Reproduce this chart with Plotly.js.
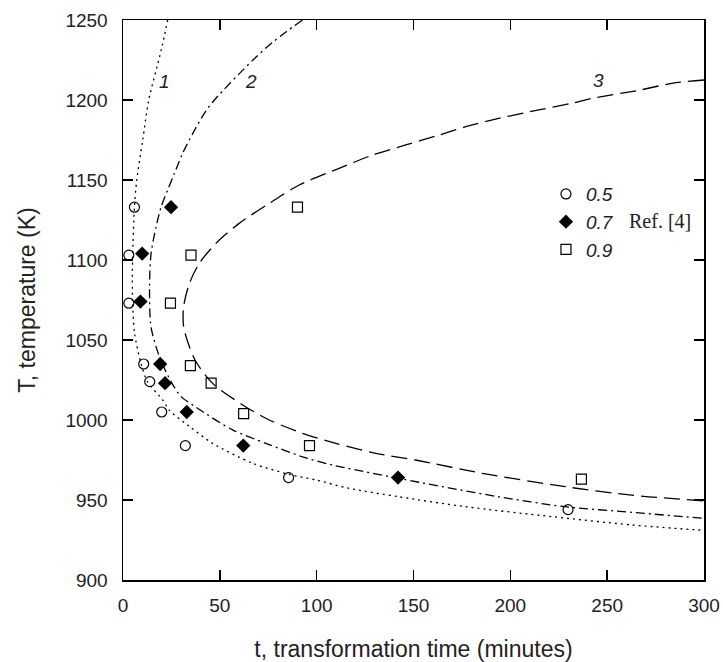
<!DOCTYPE html>
<html>
<head>
<meta charset="utf-8">
<script src="https://cdn.plot.ly/plotly-3.0.1.min.js"></script>
<style>html,body{margin:0;padding:0;background:#fff;}#chart{width:723px;height:662px;}</style>
</head>
<body>
<div id="chart"></div>
<script>
// Experimental points (Ref. [4]) — temperatures (K) and times (min)
var temp05 = [1133, 1103, 1073, 1035, 1024, 1005, 984, 964, 944];
var time05 = [5.9, 3.0, 3.0, 10.7, 13.8, 20.0, 32.2, 85.5, 229.8];
var temp07 = [1133, 1104, 1074, 1035, 1023, 1005, 984, 964];
var time07 = [24.8, 9.9, 9.0, 19.2, 21.7, 32.9, 62.1, 142.0];
var temp09 = [1133, 1103, 1073, 1034, 1023, 1004, 984, 963];
var time09 = [90.1, 35.1, 24.5, 34.8, 45.5, 62.3, 96.3, 236.7];

// Calculated curves 1, 2, 3
var curve1T = [1250, 1231, 1200, 1175, 1150, 1133, 1103, 1088, 1073, 1054, 1035, 1024, 1012.5, 1006, 996, 985.4, 973, 966, 962.5, 957.3, 952, 945.8, 939.6, 934.4, 931];
var curve1t = [23.1, 19.7, 13.3, 10.2, 7.1, 5.9, 5.0, 4.8, 5.0, 6.0, 9.4, 12.6, 20.5, 24.0, 34.3, 46.3, 66.9, 85.8, 99.6, 116.8, 142.5, 176.9, 221.5, 262.8, 300];
var curve2T = [1250, 1242.7, 1235.4, 1225, 1200, 1191.7, 1179, 1166.7, 1154, 1143.8, 1133.3, 1120.8, 1104, 1083, 1058, 1039.6, 1024, 1014.6, 1008, 993.8, 985.4, 977, 971.9, 963.5, 952, 945.8, 942.3, 938.5];
var curve2t = [92.7, 84.3, 76.6, 67.1, 47.2, 42.0, 36.0, 30.8, 26.5, 23.1, 19.7, 17.1, 14.5, 13.7, 14.5, 18.8, 24.8, 30.0, 37.7, 56.6, 73.8, 92.7, 108, 142.5, 194, 228.4, 262.8, 300];
var curve3T = [1212.5, 1210.4, 1206, 1201, 1198, 1193.8, 1188.5, 1183.3, 1178, 1171.9, 1165.6, 1157.3, 1146.9, 1135.4, 1122.9, 1110.4, 1097.9, 1085.4, 1070.8, 1058.3, 1045.8, 1036.4, 1022.9, 1009.4, 1000, 991.7, 985.4, 979.2, 975, 966.7, 958.3, 953, 949.4];
var curve3t = [300, 283.4, 266, 242, 231.9, 214.7, 194, 177, 163, 146, 128.8, 111.6, 91, 75.5, 60, 48, 39.4, 34.3, 31.3, 31.3, 34.3, 37.7, 46.3, 61.8, 75.5, 92.7, 109.9, 130.5, 151, 185.5, 228.4, 262.8, 300];

var seriesNames = ['0.5', '0.7', '0.9'];
var curveLabels = ['1', '2', '3'];

var FONT = 'Liberation Sans, Arial, Helvetica, sans-serif';

function curve(t, T, dash) {
  return {x: t, y: T, mode: 'lines', type: 'scatter', showlegend: false, hoverinfo: 'skip',
          line: {color: '#000', width: 1.3, dash: dash, shape: 'spline', smoothing: 0.8}};
}

var data = [
  curve(curve1t, curve1T, '2px,4px'),
  curve(curve2t, curve2T, '9px,4px,2px,4px'),
  curve(curve3t, curve3T, '16px,7px'),
  {x: time05, y: temp05, mode: 'markers', type: 'scatter', name: seriesNames[0],
   marker: {symbol: 'circle-open', size: 10, color: '#000', line: {width: 1.2, color: '#000'}}},
  {x: time07, y: temp07, mode: 'markers', type: 'scatter', name: seriesNames[1],
   marker: {symbol: 'diamond', size: 11, color: '#000', line: {width: 0}}},
  {x: time09, y: temp09, mode: 'markers', type: 'scatter', name: seriesNames[2],
   marker: {symbol: 'square-open', size: 10, color: '#000', line: {width: 1.2, color: '#000'}}}
];

var axisCommon = {
  showline: true, linecolor: '#000', linewidth: 1.5, mirror: 'ticks',
  ticks: 'inside', ticklen: 10, tickwidth: 1.5, tickcolor: '#000',
  showgrid: false, zeroline: false,
  tickfont: {family: FONT, size: 19, color: '#222'}
};

var layout = {
  width: 723, height: 662,
  margin: {l: 123, r: 19, t: 20, b: 82},
  paper_bgcolor: '#fff', plot_bgcolor: '#fff',
  font: {family: FONT, color: '#222'},
  xaxis: Object.assign({}, axisCommon, {
    range: [0, 300], dtick: 50, tick0: 0, ticklabelstandoff: 8,
    title: {text: 't, transformation time (minutes)', font: {family: FONT, size: 23, color: '#222'}, standoff: 26}
  }),
  yaxis: Object.assign({}, axisCommon, {
    range: [900, 1250], dtick: 50, tick0: 900, ticklabelstandoff: 10,
    title: {text: 'T, temperature (K)', font: {family: FONT, size: 23, color: '#222'}, standoff: 23}
  }),
  showlegend: true,
  legend: {x: 0.728, y: 0.723, xanchor: 'left', yanchor: 'top', bgcolor: 'rgba(0,0,0,0)',
           font: {family: FONT, size: 19, style: 'italic', color: '#222'}, itemwidth: 30},
  annotations: [
    {x: 21.4, y: 1211.5, xref: 'x', yref: 'y', text: curveLabels[0], showarrow: false,
     font: {family: FONT, size: 19, style: 'italic', color: '#222'}},
    {x: 66, y: 1211.5, xref: 'x', yref: 'y', text: curveLabels[1], showarrow: false,
     font: {family: FONT, size: 19, style: 'italic', color: '#222'}},
    {x: 245.6, y: 1212.5, xref: 'x', yref: 'y', text: curveLabels[2], showarrow: false,
     font: {family: FONT, size: 19, style: 'italic', color: '#222'}},
    {x: 0.868, y: 0.641, xref: 'paper', yref: 'paper', xanchor: 'left', yanchor: 'middle',
     text: 'Ref. [4]', showarrow: false,
     font: {family: 'Liberation Serif, Times New Roman, serif', size: 20, color: '#222'}}
  ]
};

Plotly.newPlot('chart', data, layout, {displayModeBar: false, staticPlot: true});
</script>
</body>
</html>
